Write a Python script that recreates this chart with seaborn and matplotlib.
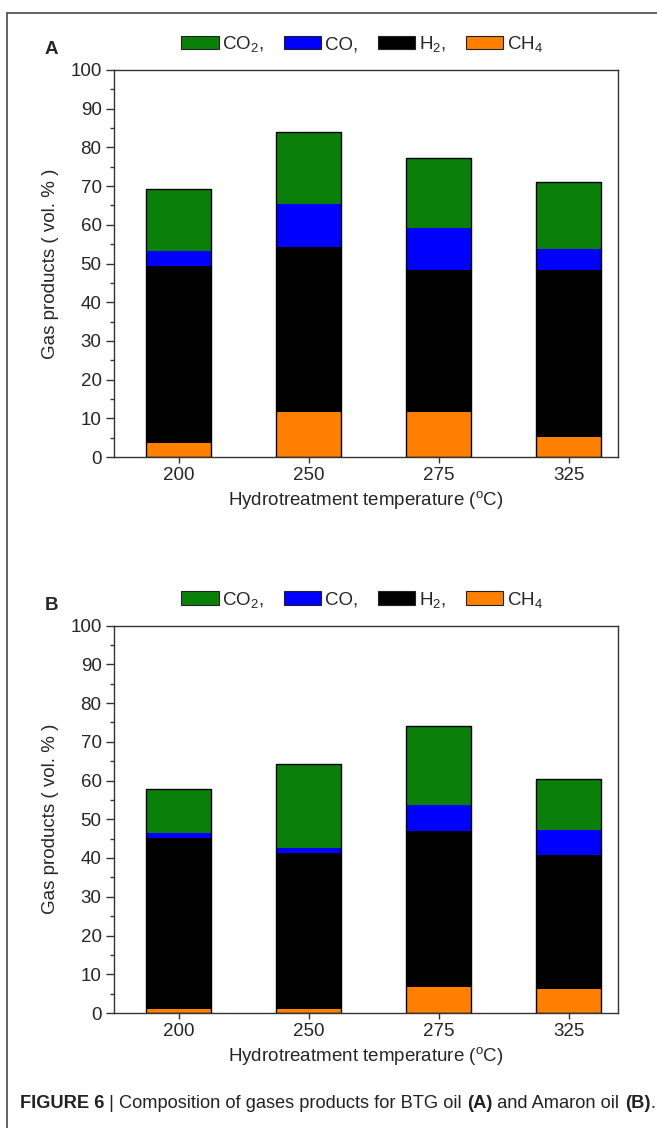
import numpy as np
import pandas as pd
import seaborn as sns
import matplotlib.pyplot as plt
from matplotlib.patches import Patch
from matplotlib.lines import Line2D
from matplotlib.ticker import MultipleLocator


temps = ['200', '250', '275', '325']
gases = ['CH4', 'H2', 'CO', 'CO2']
legend_order = ['CO2', 'CO', 'H2', 'CH4']
legend_labels = {'CO2': 'CO$_2$,', 'CO': 'CO,', 'H2': 'H$_2$,', 'CH4': 'CH$_4$'}
colors = {'CO2': '#0a7f0a', 'CO': '#0000ff', 'H2': '#000000', 'CH4': '#ff8000'}

# BTG oil (A), vol. % of each gas
ch4_a = [3.5, 11.7, 11.7, 5.2]
h2_a = [45.9, 42.6, 36.5, 43.0]
co_a = [3.8, 11.2, 11.1, 5.6]
co2_a = [16.0, 18.5, 17.9, 17.3]

# Amaron oil (B)
ch4_b = [1.1, 1.1, 6.6, 6.3]
h2_b = [44.0, 40.1, 40.3, 34.4]
co_b = [1.4, 1.3, 6.7, 6.5]
co2_b = [11.4, 21.8, 20.4, 13.3]

FS = 13.5


def plot_panel(ax, ch4, h2, co, co2, letter):
	"""
	Stacked bars done the seaborn way: draw the cumulative heights,
	tallest first, so each lower layer paints over the one above.
	"""
	df = pd.DataFrame({'T': temps, 'CH4': ch4, 'H2': h2, 'CO': co, 'CO2': co2})
	cum = df[gases].cumsum(axis=1)
	for gas in reversed(gases):
		sns.barplot(x=df['T'], y=cum[gas], color=colors[gas], saturation=1,
					width=0.5, linewidth=0, errorbar=None, ax=ax)
	# black outline round each whole bar
	sns.barplot(x=df['T'], y=cum['CO2'], color='black', fill=False,
				width=0.5, linewidth=1.0, errorbar=None, ax=ax)

	ax.set_xlim(-0.5, 3.38)
	ax.set_ylim(0, 100)
	ax.yaxis.set_major_locator(MultipleLocator(10))
	ax.yaxis.set_minor_locator(MultipleLocator(5))
	ax.tick_params(axis='y', which='major', direction='out', length=6, width=1,
				   labelsize=FS, pad=3, color='#333333')
	ax.tick_params(axis='y', which='minor', direction='out', length=3, width=1,
				   color='#333333')
	ax.tick_params(axis='x', direction='out', length=4, width=1, labelsize=FS,
				   pad=3, color='#333333')
	for sp in ax.spines.values():
		sp.set_visible(True)
		sp.set_color('#333333')
		sp.set_linewidth(1.0)
	ax.set_ylabel('Gas products ( vol. % )', fontsize=FS, labelpad=8)
	ax.set_xlabel('Hydrotreatment temperature ($^o$C)', fontsize=FS, labelpad=4)

	handles = [Patch(facecolor=colors[g], edgecolor='#222222', linewidth=0.8,
					 label=legend_labels[g]) for g in legend_order]
	ax.legend(handles=handles, ncol=4, loc='center', bbox_to_anchor=(0.492, 1.067),
			  frameon=False, fontsize=13.5, handlelength=2.0, handleheight=0.75,
			  handletextpad=0.2, columnspacing=1.05, borderaxespad=0)
	ax.text(-0.137, 1.052, letter, transform=ax.transAxes, fontsize=FS,
			fontweight='bold', va='center', ha='left')


sns.set_style('ticks')
plt.rcParams['font.family'] = ['Liberation Sans', 'DejaVu Sans']
plt.rcParams['mathtext.fontset'] = 'custom'
plt.rcParams['mathtext.rm'] = 'Liberation Sans'
plt.rcParams['mathtext.default'] = 'regular'

W, H = 657, 1128
fig = plt.figure(figsize=(W / 100, H / 100), dpi=100)
ax_a = fig.add_axes([114 / W, 1 - 457 / H, 504 / W, 387 / H])
ax_b = fig.add_axes([114 / W, 1 - 1013 / H, 504 / W, 387.5 / H])

plot_panel(ax_a, ch4_a, h2_a, co_a, co2_a, 'A')
plot_panel(ax_b, ch4_b, h2_b, co_b, co2_b, 'B')

# journal frame: top and left rules
fig.add_artist(Line2D([7 / W, 7 / W], [0, 1 - 13 / H], transform=fig.transFigure,
					  color='#555555', linewidth=1.3))
fig.add_artist(Line2D([7 / W, 1], [1 - 13 / H, 1 - 13 / H], transform=fig.transFigure,
					  color='#555555', linewidth=1.3))

# caption, pieces in bold / regular laid end to end
pieces = [('FIGURE 6', 'bold'), (' | Composition of gases products for BTG oil ', 'normal'),
		  ('(A)', 'bold'), (' and Amaron oil ', 'normal'), ('(B)', 'bold'), ('.', 'normal')]
renderer = fig.canvas.get_renderer()
x = 20 / W
for s, w in pieces:
	t = fig.text(x, 1 - 1104 / H, s, fontsize=13.15, fontweight=w, va='center', ha='left',
				 color='#222222')
	x += t.get_window_extent(renderer).width / W

fig.savefig('out.png', dpi=100)
